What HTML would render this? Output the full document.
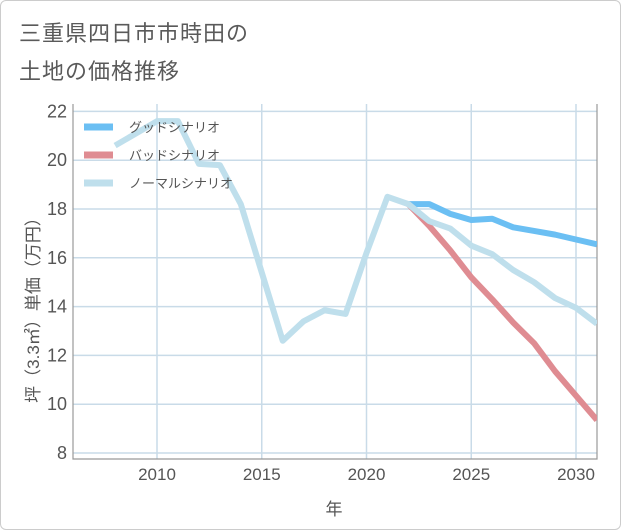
<!DOCTYPE html>
<html><head><meta charset="utf-8"><style>
body{margin:0;background:#fff;}
#card{position:absolute;left:0;top:0;width:619px;height:528px;border:1px solid #ccc;border-radius:6px;background:#fff;overflow:hidden;font-family:"Liberation Sans","Noto Sans CJK JP",sans-serif;}
.t{position:absolute;left:18px;font-size:22px;color:#5a5a5a;letter-spacing:1px;}
</style></head><body>
<div id="card">
<div class="t" style="top:15px">三重県四日市市時田の</div>
<div class="t" style="top:53px">土地の価格推移</div>
<svg id="chart" width="621" height="530" style="position:absolute;left:0;top:0"></svg>
</div>
<script>
const years=[2008,2009,2010,2011,2012,2013,2014,2015,2016,2017,2018,2019,2020,2021,2022,2023,2024,2025,2026,2027,2028,2029,2030,2031];
const normal=[20.6,21.1,21.6,21.6,19.85,19.8,18.2,15.4,12.6,13.4,13.85,13.7,16.2,18.5,18.2,17.5,17.2,16.5,16.15,15.5,15.0,14.35,13.95,13.3];
const goodYears=[2022,2023,2024,2025,2026,2027,2028,2029,2030,2031];
const good=[18.2,18.2,17.8,17.55,17.6,17.25,17.1,16.95,16.75,16.55];
const bad=[18.2,17.3,16.3,15.2,14.3,13.35,12.5,11.35,10.35,9.35];
const yTicks=[8,10,12,14,16,18,20,22];
const xTicks=[2010,2015,2020,2025,2030];
const NS="http://www.w3.org/2000/svg";
const svg=document.getElementById('chart');
const L=72,R=596,T=103,B=458;
const x=v=>156+(v-2010)*20.95;
const y=v=>452-(v-8)*24.4;
function el(t,a){const e=document.createElementNS(NS,t);for(const k in a)e.setAttribute(k,a[k]);svg.appendChild(e);return e;}
const clip=el('clipPath',{id:'c'});const cr=document.createElementNS(NS,'rect');
cr.setAttribute('x',L);cr.setAttribute('y',T);cr.setAttribute('width',R-L);cr.setAttribute('height',B-T);clip.appendChild(cr);
yTicks.forEach(v=>{
 const g=el('line',{x1:L,x2:R,y1:y(v),y2:y(v),stroke:'#c9dbe8','stroke-width':1.5});
 
 
 const t=el('text',{x:66,y:y(v)+6,'text-anchor':'end','font-size':18,fill:'#555','font-family':'Liberation Sans, sans-serif'});
 t.textContent=v;
 
 
});
xTicks.forEach(v=>{
 const g=el('line',{x1:x(v),x2:x(v),y1:T,y2:B,stroke:'#c9dbe8','stroke-width':1.5});
 
 
 const t=el('text',{x:x(v),y:479,'text-anchor':'middle','font-size':17,fill:'#555','font-family':'Liberation Sans, sans-serif'});
 t.textContent=v;
 
 
});
const fr=el('path',{d:`M${L},${T}V${B}H${R}V${T}`,fill:'none',stroke:'#999','stroke-width':1.2});


function line(xs,vs,color,name){
 const p=el('polyline',{points:xs.map((yr,i)=>x(yr)+','+y(vs[i])).join(' '),fill:'none',stroke:color,'stroke-width':6,'stroke-linejoin':'round','clip-path':'url(#c)'});
 
 
}
line(goodYears,good,'#6bbff3','good-scenario-line');
line(goodYears,bad,'#df8c92','bad-scenario-line');
line(years,normal,'#bfdfec','normal-scenario-line');
const leg=[['グッドシナリオ','#6bbff3'],['バッドシナリオ','#df8c92'],['ノーマルシナリオ','#bfdfec']];
leg.forEach((d,i)=>{
 const ly=126+i*28;
 const s=el('line',{x1:83,x2:112,y1:ly,y2:ly,stroke:d[1],'stroke-width':7});
 
 
 const t=el('text',{x:128,y:ly+5,'font-size':13,fill:'#555','font-family':'Liberation Sans, Noto Sans CJK JP, sans-serif'});
 t.textContent=d[0];
 
 
});
const yt=el('text',{x:0,y:0,'font-size':17,fill:'#555','text-anchor':'middle','font-family':'Liberation Sans, Noto Sans CJK JP, sans-serif',transform:'translate(38,305) rotate(-90)'});
yt.textContent='坪（3.3㎡）単価（万円）';


const xt=el('text',{x:333,y:514,'font-size':17,fill:'#555','text-anchor':'middle','font-family':'Liberation Sans, Noto Sans CJK JP, sans-serif'});
xt.textContent='年';


</script>
</body></html>
